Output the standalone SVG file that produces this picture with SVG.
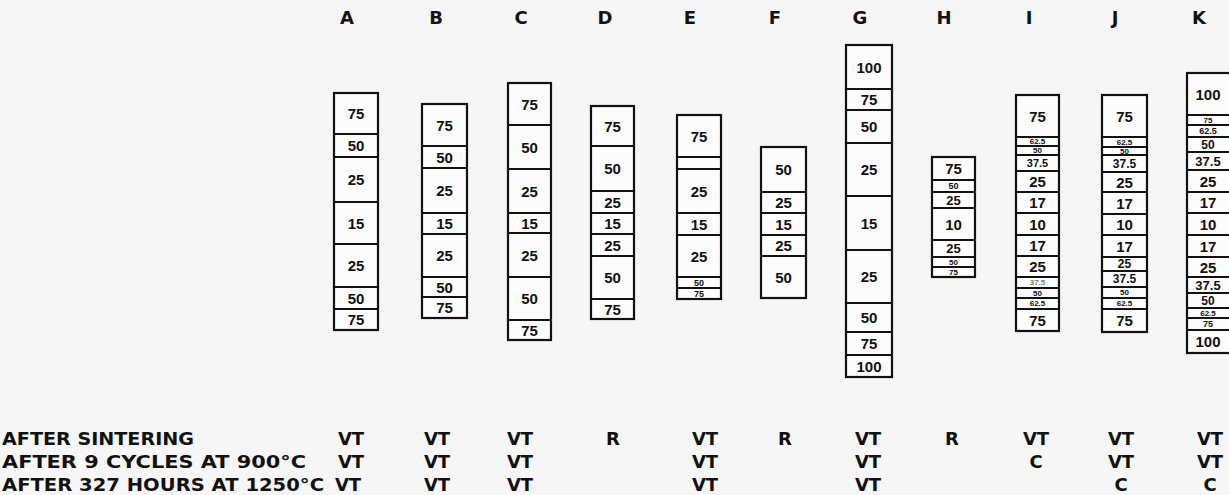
<svg xmlns="http://www.w3.org/2000/svg" width="1229" height="495" viewBox="0 0 1229 495">
<style>
.bg{fill:#f6f6f6}
.box{fill:#fcfcfc;stroke:#111;stroke-width:2.2}
.dv{fill:none;stroke:#111;stroke-width:2}
text{font-family:"Liberation Sans",Arial,sans-serif;font-weight:bold;fill:#111;text-anchor:middle;dominant-baseline:central}
.n{font-size:15px}
.hd{font-family:"DejaVu Sans",sans-serif;font-size:18px;dominant-baseline:auto}
.t{font-family:"DejaVu Sans",sans-serif;font-size:18px;dominant-baseline:auto}
.tl{font-family:"DejaVu Sans",sans-serif;font-size:18px;dominant-baseline:auto;text-anchor:start}
</style>
<rect class="bg" x="0" y="0" width="1229" height="495"/>

<g id="col-A">
<text class="hd" x="347" y="24">A</text>
<rect class="box" x="334" y="93" width="44" height="237"/>
<path class="dv" d="M334 134H378M334 157H378M334 202H378M334 244H378M334 287H378M334 309H378"/>
<text class="n" x="356" y="113.5">75</text>
<text class="n" x="356" y="145.5">50</text>
<text class="n" x="356" y="179.5">25</text>
<text class="n" x="356" y="223">15</text>
<text class="n" x="356" y="265.5">25</text>
<text class="n" x="356" y="298">50</text>
<text class="n" x="356" y="319.5">75</text>
</g>

<g id="col-B">
<text class="hd" x="436" y="24">B</text>
<rect class="box" x="422" y="104" width="45" height="214"/>
<path class="dv" d="M422 146H467M422 168H467M422 213H467M422 234H467M422 277H467M422 297H467"/>
<text class="n" x="444.5" y="125">75</text>
<text class="n" x="444.5" y="157">50</text>
<text class="n" x="444.5" y="190.5">25</text>
<text class="n" x="444.5" y="223.5">15</text>
<text class="n" x="444.5" y="255.5">25</text>
<text class="n" x="444.5" y="287">50</text>
<text class="n" x="444.5" y="307.5">75</text>
</g>

<g id="col-C">
<text class="hd" x="521" y="24">C</text>
<rect class="box" x="508" y="83" width="43" height="257"/>
<path class="dv" d="M508 125H551M508 169H551M508 213H551M508 233H551M508 277H551M508 320H551"/>
<text class="n" x="529.5" y="104">75</text>
<text class="n" x="529.5" y="147">50</text>
<text class="n" x="529.5" y="191">25</text>
<text class="n" x="529.5" y="223">15</text>
<text class="n" x="529.5" y="255">25</text>
<text class="n" x="529.5" y="298.5">50</text>
<text class="n" x="529.5" y="330">75</text>
</g>

<g id="col-D">
<text class="hd" x="605" y="24">D</text>
<rect class="box" x="591" y="106" width="43" height="213"/>
<path class="dv" d="M591 146H634M591 191H634M591 213H634M591 234H634M591 256H634M591 299H634"/>
<text class="n" x="612.5" y="126">75</text>
<text class="n" x="612.5" y="168.5">50</text>
<text class="n" x="612.5" y="202">25</text>
<text class="n" x="612.5" y="223.5">15</text>
<text class="n" x="612.5" y="245">25</text>
<text class="n" x="612.5" y="277.5">50</text>
<text class="n" x="612.5" y="309">75</text>
</g>

<g id="col-E">
<text class="hd" x="690" y="24">E</text>
<rect class="box" x="677" y="115" width="44" height="184"/>
<path class="dv" d="M677 157H721M677 169H721M677 213H721M677 235H721M677 277H721M677 288H721"/>
<text class="n" x="699" y="136">75</text>
<text class="n" x="699" y="191">25</text>
<text class="n" x="699" y="224">15</text>
<text class="n" x="699" y="256">25</text>
<text x="699" y="282.5" font-size="9">50</text>
<text x="699" y="293.5" font-size="9">75</text>
</g>

<g id="col-F">
<text class="hd" x="775" y="24">F</text>
<rect class="box" x="761" y="147" width="45" height="151"/>
<path class="dv" d="M761 192H806M761 213H806M761 235H806M761 256H806"/>
<text class="n" x="783.5" y="169.5">50</text>
<text class="n" x="783.5" y="202.5">25</text>
<text class="n" x="783.5" y="224">15</text>
<text class="n" x="783.5" y="245.5">25</text>
<text class="n" x="783.5" y="277">50</text>
</g>

<g id="col-G">
<text class="hd" x="860" y="24">G</text>
<rect class="box" x="846" y="45" width="46" height="332"/>
<path class="dv" d="M846 89H892M846 110H892M846 143H892M846 196H892M846 250H892M846 303H892M846 332H892M846 355H892"/>
<text class="n" x="869" y="67">100</text>
<text class="n" x="869" y="99.5">75</text>
<text class="n" x="869" y="126.5">50</text>
<text class="n" x="869" y="169.5">25</text>
<text class="n" x="869" y="223">15</text>
<text class="n" x="869" y="276.5">25</text>
<text class="n" x="869" y="317.5">50</text>
<text class="n" x="869" y="343.5">75</text>
<text class="n" x="869" y="366">100</text>
</g>

<g id="col-H">
<text class="hd" x="944" y="24">H</text>
<rect class="box" x="932" y="157" width="43" height="120"/>
<path class="dv" d="M932 180H975M932 192H975M932 208H975M932 240H975M932 257H975M932 267H975"/>
<text class="n" x="953.5" y="168.5">75</text>
<text x="953.5" y="186" font-size="9">50</text>
<text x="953.5" y="200" font-size="13">25</text>
<text class="n" x="953.5" y="224">10</text>
<text x="953.5" y="248.5" font-size="13">25</text>
<text x="953.5" y="262" font-size="8">50</text>
<text x="953.5" y="272" font-size="8">75</text>
</g>

<g id="col-I">
<text class="hd" x="1029" y="24">I</text>
<rect class="box" x="1016" y="95" width="43" height="236"/>
<path class="dv" d="M1016 137H1059M1016 146H1059M1016 155H1059M1016 171H1059M1016 192H1059M1016 213H1059M1016 235H1059M1016 256H1059M1016 277H1059M1016 288H1059M1016 298H1059M1016 309H1059"/>
<text class="n" x="1037.5" y="116">75</text>
<text x="1037.5" y="141.5" font-size="8">62.5</text>
<text x="1037.5" y="150.5" font-size="8">50</text>
<text x="1037.5" y="163" font-size="11">37.5</text>
<text class="n" x="1037.5" y="181.5">25</text>
<text class="n" x="1037.5" y="202.5">17</text>
<text class="n" x="1037.5" y="224">10</text>
<text class="n" x="1037.5" y="245.5">17</text>
<text class="n" x="1037.5" y="266.5">25</text>
<text x="1037.5" y="282.5" font-size="8" fill-opacity="0.6">37.5</text>
<text x="1037.5" y="293" font-size="8">50</text>
<text x="1037.5" y="303.5" font-size="8">62.5</text>
<text class="n" x="1037.5" y="320">75</text>
</g>

<g id="col-J">
<text class="hd" x="1115" y="24">J</text>
<rect class="box" x="1102" y="95" width="45" height="237"/>
<path class="dv" d="M1102 137H1147M1102 147H1147M1102 155H1147M1102 172H1147M1102 192H1147M1102 214H1147M1102 235H1147M1102 257H1147M1102 271H1147M1102 287H1147M1102 298H1147M1102 309H1147"/>
<text class="n" x="1124.5" y="116">75</text>
<text x="1124.5" y="142" font-size="8">62.5</text>
<text x="1124.5" y="151" font-size="8">50</text>
<text x="1124.5" y="163.5" font-size="12">37.5</text>
<text class="n" x="1124.5" y="182">25</text>
<text class="n" x="1124.5" y="203">17</text>
<text class="n" x="1124.5" y="224.5">10</text>
<text class="n" x="1124.5" y="246">17</text>
<text x="1124.5" y="264" font-size="12">25</text>
<text x="1124.5" y="279" font-size="12">37.5</text>
<text x="1124.5" y="292.5" font-size="8">50</text>
<text x="1124.5" y="303.5" font-size="8">62.5</text>
<text class="n" x="1124.5" y="320.5">75</text>
</g>

<g id="col-K">
<text class="hd" x="1199" y="24">K</text>
<rect class="box" x="1187" y="73" width="44" height="280"/>
<path class="dv" d="M1187 115H1231M1187 125H1231M1187 137H1231M1187 152H1231M1187 170H1231M1187 192H1231M1187 213H1231M1187 235H1231M1187 257H1231M1187 277H1231M1187 293H1231M1187 308H1231M1187 318H1231M1187 330H1231"/>
<text class="n" x="1208" y="94">100</text>
<text x="1208" y="120" font-size="8">75</text>
<text x="1208" y="131" font-size="9">62.5</text>
<text x="1208" y="144.5" font-size="12">50</text>
<text x="1208" y="161" font-size="13">37.5</text>
<text class="n" x="1208" y="181">25</text>
<text class="n" x="1208" y="202.5">17</text>
<text class="n" x="1208" y="224">10</text>
<text class="n" x="1208" y="246">17</text>
<text class="n" x="1208" y="267">25</text>
<text x="1208" y="285" font-size="13">37.5</text>
<text x="1208" y="300.5" font-size="12">50</text>
<text x="1208" y="313" font-size="8">62.5</text>
<text x="1208" y="324" font-size="9">75</text>
<text class="n" x="1208" y="341.5">100</text>
</g>

<g id="table">
<text class="tl" x="2" y="445" textLength="192" lengthAdjust="spacingAndGlyphs">AFTER SINTERING</text>
<text class="tl" x="2" y="468" textLength="304" lengthAdjust="spacingAndGlyphs">AFTER 9 CYCLES AT 900°C</text>
<text class="tl" x="2" y="491" textLength="322" lengthAdjust="spacingAndGlyphs">AFTER 327 HOURS AT 1250°C</text>
<text class="t" x="351" y="445">VT</text>
<text class="t" x="437" y="445">VT</text>
<text class="t" x="520" y="445">VT</text>
<text class="t" x="613" y="445">R</text>
<text class="t" x="705" y="445">VT</text>
<text class="t" x="785" y="445">R</text>
<text class="t" x="868" y="445">VT</text>
<text class="t" x="952" y="445">R</text>
<text class="t" x="1036" y="445">VT</text>
<text class="t" x="1121" y="445">VT</text>
<text class="t" x="1210" y="445">VT</text>
<text class="t" x="351" y="468">VT</text>
<text class="t" x="437" y="468">VT</text>
<text class="t" x="520" y="468">VT</text>
<text class="t" x="705" y="468">VT</text>
<text class="t" x="868" y="468">VT</text>
<text class="t" x="1036" y="468">C</text>
<text class="t" x="1121" y="468">VT</text>
<text class="t" x="1210" y="468">VT</text>
<text class="t" x="348" y="491">VT</text>
<text class="t" x="437" y="491">VT</text>
<text class="t" x="520" y="491">VT</text>
<text class="t" x="705" y="491">VT</text>
<text class="t" x="868" y="491">VT</text>
<text class="t" x="1121" y="491">C</text>
<text class="t" x="1210" y="491">C</text>
</g>
</svg>
